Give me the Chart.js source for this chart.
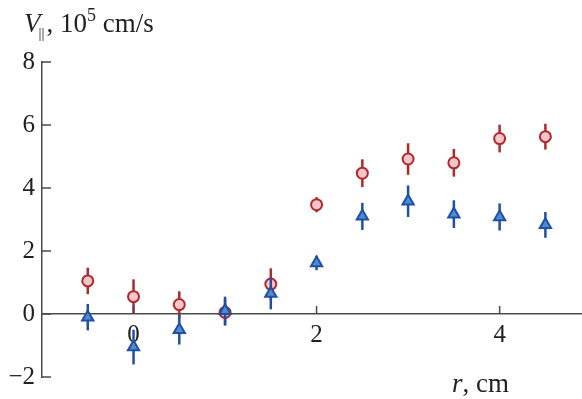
<!DOCTYPE html>
<html>
<head>
<meta charset="utf-8">
<script src="https://cdn.jsdelivr.net/npm/chart.js@4"></script>
<style>
  html, body { margin: 0; padding: 0; background: #fff; }
  #wrap { width: 582px; height: 399px; }
</style>
</head>
<body>
<div id="wrap"><canvas id="vel-chart" width="582" height="399"></canvas></div>
<script>
// Radial positions, cm
const positions = [-0.5, 0, 0.5, 1, 1.5, 2, 2.5, 3, 3.5, 4, 4.5];

// Circles (red) and triangles (blue), 10^5 cm/s
const circleValues = [1.05, 0.55, 0.3, 0.05, 0.95, 3.47, 4.47, 4.92, 4.8, 5.57, 5.63];
const circleErrors = [0.42, 0.55, 0.42, 0.42, 0.5, 0.24, 0.44, 0.5, 0.44, 0.44, 0.41];
const triangleValues = [-0.1, -1.05, -0.5, 0.1, 0.65, 1.62, 3.1, 3.58, 3.17, 3.08, 2.83];
const triangleErrors = [0.42, 0.55, 0.47, 0.45, 0.5, 0.23, 0.43, 0.5, 0.44, 0.43, 0.41];

const xTicks = [0, 2, 4];
const yTicks = [-2, 0, 2, 4, 6, 8];

const serif = '"Liberation Serif", "DejaVu Serif", serif';
const axisColor = '#4a4a4a';

function toPoints(values, errors) {
    return positions.map((x, i) => ({ x: x, y: values[i], err: errors[i] }));
}

// Error bars go under the markers of their own series
const errorBars = {
    id: 'errorBars',
    beforeDatasetDraw(chart, args) {
        const ds = chart.data.datasets[args.index];
        const ctx = chart.ctx;
        const xs = chart.scales.x;
        const ys = chart.scales.y;
        ctx.save();
        ctx.strokeStyle = ds.borderColor;
        ctx.lineWidth = 2.5;
        ds.data.forEach(p => {
            const px = xs.getPixelForValue(p.x);
            ctx.beginPath();
            ctx.moveTo(px, ys.getPixelForValue(p.y - p.err));
            ctx.lineTo(px, ys.getPixelForValue(p.y + p.err));
            ctx.stroke();
        });
        ctx.restore();
    }
};

// Inward tick marks and the two axis titles
const axisExtras = {
    id: 'axisExtras',
    afterDraw(chart) {
        const ctx = chart.ctx;
        const xs = chart.scales.x;
        const ys = chart.scales.y;
        const left = chart.chartArea.left;
        const y0 = ys.getPixelForValue(0);
        ctx.save();
        ctx.strokeStyle = axisColor;
        ctx.lineWidth = 1.5;
        yTicks.forEach(v => {
            const py = ys.getPixelForValue(v);
            ctx.beginPath();
            ctx.moveTo(left, py);
            ctx.lineTo(left + 9, py);
            ctx.stroke();
        });
        xTicks.forEach(v => {
            const px = xs.getPixelForValue(v);
            ctx.beginPath();
            ctx.moveTo(px, y0);
            ctx.lineTo(px, y0 - 8);
            ctx.stroke();
        });

        ctx.fillStyle = '#222';
        ctx.textBaseline = 'alphabetic';
        ctx.textAlign = 'left';

        // y title: V‖, 10^5 cm/s
        let x = 24, base = 32;
        ctx.font = 'italic 27px ' + serif;
        ctx.fillText('V', x, base);
        x += ctx.measureText('V').width;
        ctx.font = '15px ' + serif;
        ctx.fillText('||', x - 2, base + 6);
        x += ctx.measureText('||').width;
        ctx.font = '27px ' + serif;
        ctx.fillText(', 10', x, base);
        x += ctx.measureText(', 10').width;
        ctx.font = '18px ' + serif;
        ctx.fillText('5', x, base - 11);
        x += ctx.measureText('5').width;
        ctx.font = '27px ' + serif;
        ctx.fillText(' cm/s', x, base);

        // x title: r, cm
        x = 452; base = 392;
        ctx.font = 'italic 27px ' + serif;
        ctx.fillText('r', x, base);
        x += ctx.measureText('r').width;
        ctx.font = '27px ' + serif;
        ctx.fillText(', cm', x, base);
        ctx.restore();
    }
};

const chart = new Chart(document.getElementById('vel-chart'), {
    type: 'scatter',
    data: {
        datasets: [
            {
                label: 'triangles',
                data: toPoints(triangleValues, triangleErrors),
                pointStyle: 'triangle',
                pointRadius: 6.5,
                borderWidth: 2,
                borderColor: '#1f50a5',
                backgroundColor: '#4f8bd2',
                order: 0
            },
            {
                label: 'circles',
                data: toPoints(circleValues, circleErrors),
                pointStyle: 'circle',
                pointRadius: 5.5,
                borderWidth: 2,
                borderColor: '#b0282c',
                backgroundColor: '#f6c6ca',
                order: 1
            }
        ]
    },
    options: {
        responsive: false,
        animation: false,
        layout: {
            autoPadding: false,
            padding: { top: 62, right: 0, bottom: 22, left: 0 }
        },
        plugins: {
            legend: { display: false },
            tooltip: { enabled: false }
        },
        scales: {
            x: {
                type: 'linear',
                position: { y: 0 },
                min: -1,
                max: 4.9,
                afterBuildTicks: s => { s.ticks = xTicks.map(v => ({ value: v })); },
                afterFit: s => { s.paddingLeft = 0; s.paddingRight = 0; },
                grid: { display: false, drawTicks: false },
                border: { display: true, color: axisColor, width: 1.5 },
                ticks: {
                    padding: 6,
                    color: '#222',
                    font: { family: serif, size: 25 }
                }
            },
            y: {
                type: 'linear',
                min: -2,
                max: 8,
                afterBuildTicks: s => { s.ticks = yTicks.map(v => ({ value: v })); },
                afterFit: s => { s.width = 42; s.paddingTop = 0; s.paddingBottom = 0; },
                grid: { display: false, drawTicks: false },
                border: { display: true, color: axisColor, width: 1.5 },
                ticks: {
                    padding: 7,
                    color: '#222',
                    font: { family: serif, size: 25 },
                    callback: v => v < 0 ? '\u2212' + Math.abs(v) : String(v)
                }
            }
        }
    },
    plugins: [errorBars, axisExtras]
});
</script>
</body>
</html>
